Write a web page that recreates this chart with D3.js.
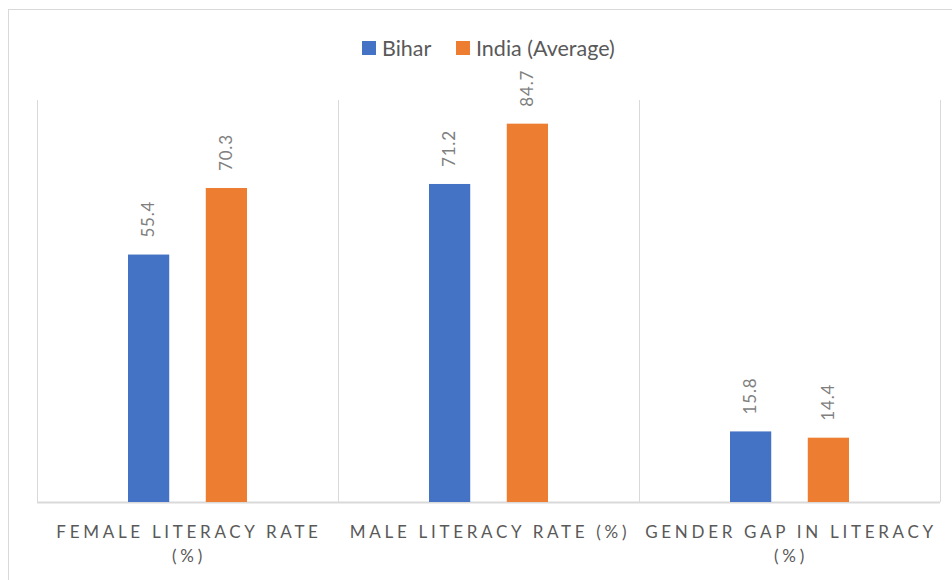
<!DOCTYPE html>
<html>
<head>
<meta charset="utf-8">
<script src="https://cdn.jsdelivr.net/npm/d3@7"></script>
<style>
  body { margin: 0; background: #fff; }
  svg { display: block; font-family: Lato, "Noto Sans", sans-serif; }
</style>
</head>
<body>
<div id="chart"></div>
<script>
// data
const categories = ["FEMALE LITERACY RATE (%)", "MALE LITERACY RATE (%)", "GENDER GAP IN LITERACY (%)"];
const categoryLines = [["FEMALE LITERACY RATE", "(%)"], ["MALE LITERACY RATE (%)"], ["GENDER GAP IN LITERACY", "(%)"]];
const seriesNames = ["Bihar", "India (Average)"];
const bihar = [55.4, 71.2, 15.8];
const india = [70.3, 84.7, 14.4];
const colors = ["#4472c4", "#ed7d31"];

const width = 952, height = 580;
const margin = { top: 100, right: 12, bottom: 78, left: 37 };

const svg = d3.select("#chart").append("svg")
    .attr("width", width)
    .attr("height", height);

// outer chart border
svg.append("rect")
    .attr("x", 8.5).attr("y", 9.5)
    .attr("width", width).attr("height", height)
    .attr("fill", "none")
    .attr("stroke", "#d9d9d9");

const x = d3.scaleBand()
    .domain(categories)
    .range([margin.left, width - margin.right]);

const x1 = d3.scaleBand()
    .domain(seriesNames)
    .range([91, x.bandwidth() - 91])
    .paddingInner(0.47);

const y = d3.scaleLinear()
    .domain([0, 90])
    .range([height - margin.bottom, margin.top]);

// vertical separators
const seps = x.domain().map(d => x(d)).concat([x.range()[1]]);
svg.append("g").selectAll("line")
    .data(seps)
    .enter().append("line")
    .attr("x1", d => Math.round(d) + 0.5)
    .attr("x2", d => Math.round(d) + 0.5)
    .attr("y1", y(90))
    .attr("y2", y(0))
    .attr("stroke", "#d9d9d9");

// baseline
svg.append("line")
    .attr("x1", x.range()[0]).attr("x2", x.range()[1])
    .attr("y1", y(0) + 0.5).attr("y2", y(0) + 0.5)
    .attr("stroke", "#d9d9d9")
    .attr("stroke-width", 2);

const rows = categories.map((c, i) => ({ cat: c, values: [bihar[i], india[i]] }));

const groups = svg.append("g").selectAll("g")
    .data(rows)
    .enter().append("g")
    .attr("transform", d => "translate(" + x(d.cat) + ",0)");

groups.selectAll("rect")
    .data(d => d.values.map((v, j) => ({ key: seriesNames[j], value: v, j: j })))
    .enter().append("rect")
    .attr("x", d => x1(d.key))
    .attr("y", d => y(d.value))
    .attr("width", x1.bandwidth())
    .attr("height", d => y(0) - y(d.value))
    .attr("fill", d => colors[d.j]);

// value labels, rotated
groups.selectAll("text.val")
    .data(d => d.values.map((v, j) => ({ key: seriesNames[j], value: v })))
    .enter().append("text")
    .attr("class", "val")
    .attr("transform", d => "translate(" + (x1(d.key) + x1.bandwidth() / 2 + 5.5) + "," + (y(d.value) - 17) + ") rotate(-90)")
    .attr("text-anchor", "start")
    .style("font-size", "17px")
    .style("letter-spacing", "0.8px")
    .style("fill", "#7f7f7f")
    .text(d => d.value.toFixed(1));

// category labels
const catLabels = svg.append("g").selectAll("text")
    .data(categories)
    .enter().append("text")
    .attr("x", d => x(d) + x.bandwidth() / 2)
    .attr("y", 538)
    .attr("text-anchor", "middle")
    .style("font-size", "17px")
    .style("letter-spacing", "3.7px")
    .style("fill", "#595959");

catLabels.each(function(d, i) {
    const t = d3.select(this);
    categoryLines[i].forEach((ln, k) => {
        t.append("tspan")
            .attr("x", x(d) + x.bandwidth() / 2 + 1.5)
            .attr("dy", k === 0 ? 0 : 24)
            .text(ln);
    });
});

// legend
const legend = svg.append("g");
const legX = [362, 456];
seriesNames.forEach((s, i) => {
    legend.append("rect")
        .attr("x", legX[i]).attr("y", 41)
        .attr("width", 14).attr("height", 14)
        .attr("fill", colors[i]);
    legend.append("text")
        .attr("x", legX[i] + 20).attr("y", 56)
        .style("font-size", "21.5px")
        .style("fill", "#595959")
        .text(s);
});
</script>
</body>
</html>
